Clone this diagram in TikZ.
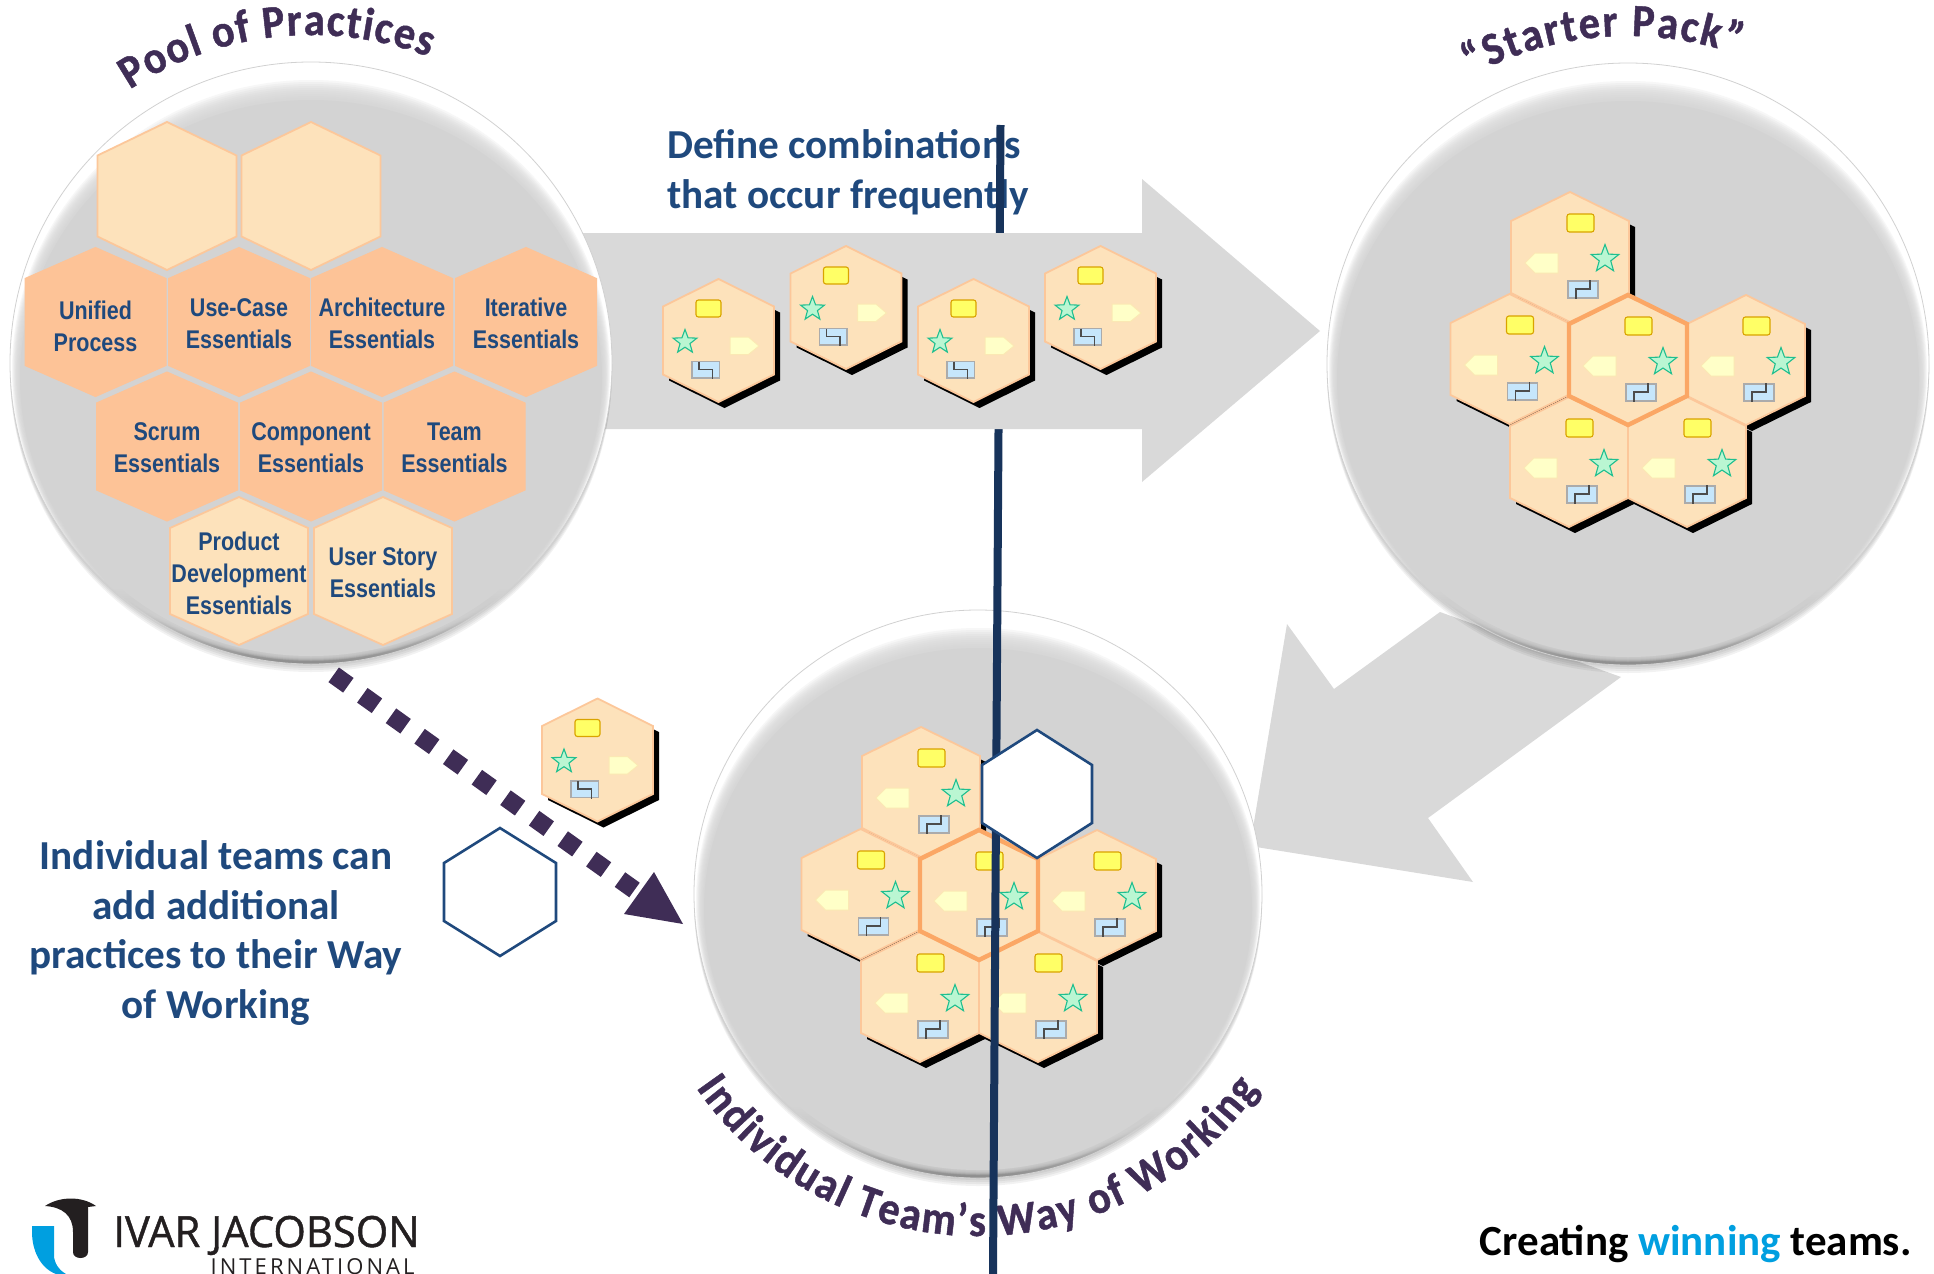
\documentclass[tikz,border=0pt]{standalone}
\usepackage{fontspec}
\usetikzlibrary{shapes.geometric,decorations.text,calc}
\setmainfont{Carlito}
\newfontfamily\carl{Carlito}
\newfontfamily\titlef[FakeStretch=0.92,FakeBold=1]{Carlito}
\newfontfamily\narrowf[FakeStretch=0.84]{Liberation Sans}
\newfontfamily\logof[FakeStretch=0.97,FakeBold=1]{Open Sans}
\newfontfamily\logoi[LetterSpace=14]{Open Sans}
\definecolor{navy}{HTML}{1F497D}
\definecolor{linec}{HTML}{17335B}
\definecolor{purp}{HTML}{3F2D56}
\definecolor{arrowg}{HTML}{D9D9D9}
\definecolor{sphg}{HTML}{D3D3D3}
\definecolor{hexdark}{HTML}{FDC397}
\definecolor{hexlight}{HTML}{FDE2BB}
\definecolor{hexline}{HTML}{FCC79A}
\definecolor{hexthick}{HTML}{FBA765}
\definecolor{ylw}{HTML}{FFFF66}
\definecolor{ylwl}{HTML}{D9A300}
\definecolor{starf}{HTML}{BAF6D2}
\definecolor{starl}{HTML}{1FBF8F}
\definecolor{penf}{HTML}{FFFFC8}
\definecolor{penl}{HTML}{FBE8B4}
\definecolor{bluf}{HTML}{C6E6FB}
\definecolor{blul}{HTML}{ABABAB}
\definecolor{blogo}{HTML}{009FE0}
\definecolor{dark}{HTML}{231F20}
\pgfdeclareverticalshading{sphbase}{100bp}{color(0bp)=(black!45); color(25bp)=(black!45); color(29bp)=(black!22); color(40bp)=(white); color(100bp)=(white)}
\tikzset{
  x=0.5pt,y=-0.5pt,
  hexd/.style={fill=hexdark,draw=hexdark,line width=0.5pt},
  hexl/.style={fill=hexlight,draw=hexline,line width=0.9pt},
  hexc/.style={fill=hexlight,draw=hexthick,line width=2.2pt},
  hexw/.style={fill=white,draw=navy,line width=1.3pt},
  hexo/.style={draw=navy,line width=1.3pt},
  shad/.style={fill=black},
  lab/.style={font=\narrowf\bfseries\fontsize{12.8}{16}\selectfont,text=navy,align=center,inner sep=0pt},
  bigt/.style={font=\carl\bfseries\fontsize{20.6}{24.7}\selectfont,text=navy,inner sep=0pt},
  ylwbox/.style={fill=ylw,draw=ylwl,line width=0.55pt,rounded corners=1.2pt},
  penbox/.style={fill=penf,draw=penl,line width=0.5pt},
  blubox/.style={fill=bluf,draw=blul,line width=0.9pt},
  zline/.style={draw=black!70,line width=0.6pt},
  stars/.style={star,star points=5,star point ratio=2.4,fill=starf,draw=starl,line width=0.55pt,inner sep=0pt},
  bigarrow/.style={fill=arrowg,draw=none},
  curved/.style={decorate,decoration={text along path,text color=purp,text align=fit to path,
     text={|\titlef\bfseries\fontsize{23}{23}\selectfont|#1}}},
}
\def\cmpx{*0.5pt}
% centre x, centre y, half width, half height, shoulder, style
\newcommand{\hexa}[6]{\path[#6] (#1,#2-#4) -- (#1+#3,#2-#5) -- (#1+#3,#2+#5) -- (#1,#2+#4) -- (#1-#3,#2+#5) -- (#1-#3,#2-#5) -- cycle;}
% card pointing right: name, cx, cy
\newcommand{\cardR}[3]{%
  \hexa{#2+6}{#3+6}{55.5}{61.5}{34}{shad}
  \hexa{#2}{#3}{55.5}{61.5}{34}{hexl}
  \begin{scope}[shift={(#2,#3)}]
    \path[ylwbox] (-22.5,-40.5) rectangle (2.5,-23.5);
    \path[penbox] (11.5,-3.5) -- (30,-3.5) -- (40.5,5.5) -- (30,14) -- (11.5,14) -- cycle;
    \path[blubox] (-26.5,21) rectangle (1,37.5);
    \path[zline] (-19.5,21) -- (-19.5,29) -- (-6,29) -- (-6,38.5);
    \node[stars,minimum size=25\cmpx] (#1s) at (-33.5,1.5) {};
  \end{scope}}
% card pointing left in a cluster: name, cx, cy, style
\newcommand{\cardL}[4]{%
  \hexa{#2}{#3}{59}{65}{36}{#4}
  \begin{scope}[shift={(#2,#3)}]
    \path[ylwbox] (-3,-43) rectangle (24,-25);
    \path[penbox] (-45,6) -- (-35,-4) -- (-12,-4) -- (-12,16) -- (-35,16) -- cycle;
    \path[blubox] (-2,24) rectangle (28,41);
    \path[zline] (20,23) -- (20,32) -- (6,32) -- (6,42);
    \node[stars,minimum size=29\cmpx] (#1s) at (35,2) {};
  \end{scope}}
\newcommand{\cluster}[3]{%
  \hexa{#2-58+6}{#3-103+6}{59}{65}{36}{shad}
  \hexa{#2-118.5+6}{#3-1+6}{59}{65}{36}{shad}
  \hexa{#2+118+6}{#3+6}{59}{65}{36}{shad}
  \hexa{#2-59+6}{#3+102+6}{59}{65}{36}{shad}
  \hexa{#2+59+6}{#3+102+6}{59}{65}{36}{shad}
  \cardL{#1t}{#2-58}{#3-103}{hexl}
  \cardL{#1l}{#2-118.5}{#3-1}{hexl}
  \cardL{#1r}{#2+118}{#3}{hexl}
  \cardL{#1a}{#2-59}{#3+102}{hexl}
  \cardL{#1b}{#2+59}{#3+102}{hexl}
  \cardL{#1c}{#2}{#3}{hexc}}
% name, cx, cy, r
\newcommand{\sphere}[4]{%
  \foreach \k in {2,4,6,8}{\fill[black,opacity=0.05] (#2,#3+\k) circle [radius={(#4)*0.5pt}];}
  \node[circle,inner sep=0pt,minimum size={(#4)*1pt},shading=sphbase,draw=black!18,line width=0.4pt] (#1) at (#2,#3) {};
  \foreach \t in {0,0.1,...,1}{\fill[sphg,opacity=0.18] (#2,{#3+7.5+7.5*\t}) ellipse [x radius={(#4-2-8*\t)*0.5pt},y radius={(#4-10.5-12.5*\t)*0.5pt}];}
  \fill[sphg] (#2,#3+15) ellipse [x radius={(#4-10)*0.5pt},y radius={(#4-23)*0.5pt}];}
% text on an arc: cx, cy, r, start angle, end angle, text
\newcommand{\arctext}[6]{\path[curved={#6}] ({#1+(#3)*cos(#4)},{#2-(#3)*sin(#4)}) arc [start angle=#4,end angle=#5,radius={(#3)*0.5pt}];}
\begin{document}
\begin{tikzpicture}
\path[use as bounding box] (0,0) rectangle (1934,1274);
\clip (0,0) rectangle (1934,1274);
% arrow from Starter Pack to the team
\path[bigarrow] (1440,612) -- (1334,689) -- (1287,624) -- (1250,846) -- (1473,882) -- (1428,818) -- (1621,677) -- cycle;
% Individual Team
\sphere{ind}{978}{894}{284}
\cluster{i}{979}{895}
\arctext{978}{894}{342}{214.5}{325.2}{Individual Team’s Way of Working}
% heading
\node[bigt,anchor=base west,align=left] (deftxt) at (667,158) {Define combinations};
\node[bigt,anchor=base west,align=left] (deftxt2) at (667,208) {that occur frequently};
% vertical line
\coordinate (ltop) at (1000.5,125);
\coordinate (lbot) at (993,1274);
\draw[linec,line width=4pt] (ltop) -- (lbot);
\hexa{1037}{794}{55}{64}{29}{hexw}
% big arrow right
\path[bigarrow] (560,233) -- (1142,233) -- (1142,179) -- (1320,331) -- (1142,482) -- (1142,429) -- (560,429) -- cycle;
% pool
\sphere{pool}{311}{363}{301}
\hexa{167}{196}{69.5}{74}{40.5}{hexl}
\hexa{311}{196}{69.5}{74}{40.5}{hexl}
\foreach \n/\cx/\cy/\ly/\txt in {
  a/95.5/322/326/{Unified\\Process},
  b/239/322/323.5/{Use-Case\\Essentials},
  c/382/322/323.5/{Architecture\\Essentials},
  d/526/322/323.5/{Iterative\\Essentials},
  e/167/446.5/448/{Scrum\\Essentials},
  f/311/446.5/448/{Component\\Essentials},
  g/454.5/446.5/448/{Team\\Essentials}}{
  \hexa{\cx}{\cy}{70.5}{74.5}{43.5}{hexd}
  \node[lab] (lab\n) at (\cx,\ly) {\txt};
}
\foreach \n/\cx/\cy/\ly/\txt in {
  h/239/571/573/{Product\\Development\\Essentials},
  i/383/571/573/{User Story\\Essentials}}{
  \hexa{\cx}{\cy}{69}{74}{43}{hexl}
  \node[lab] (lab\n) at (\cx,\ly) {\txt};
}
\arctext{311}{363}{328}{123.5}{69}{Pool of Practices}
% starter
\sphere{starter}{1628}{364}{301}
\cluster{s}{1628}{360}
\arctext{1628}{364}{328}{118.5}{70.6}{“Starter Pack”}
% cards in the arrow
\cardR{c1}{718.5}{340.5}
\cardR{c2}{846}{307.5}
\cardR{c3}{973.5}{340.5}
\cardR{c4}{1100.5}{307.5}
% extra practice
\cardR{c5}{597.5}{760}
\hexa{500}{892}{56}{64}{29}{hexo}
\coordinate (dstart) at (333.7,674.8);
\coordinate (dend) at (634.5,890);
\draw[purp,line width=9pt,dash pattern=on 9pt off 8.6pt] (dstart) -- (dend);
\path[fill=purp] (654,872) -- (683,924) -- (624,914) -- cycle;
\node[bigt,align=center] (addtxt) at (216,933) {Individual teams can\\add additional\\practices to their Way\\of Working};
% footer
\node[anchor=base east,inner sep=0pt,font=\carl\bfseries\fontsize{21.5}{22}\selectfont] (tagline) at (1912,1255) {Creating \textcolor{blogo}{winning} teams.};
\path[fill=dark] (45,1206) .. controls (60,1196) and (82,1196) .. (96,1206) -- (88,1207) -- (88,1252) .. controls (88,1260) and (73,1260) .. (73,1252) -- (73,1232) .. controls (73,1215) and (62,1207) .. (45,1206) -- cycle;
\path[fill=blogo] (32,1226) -- (54,1226) -- (54,1255) .. controls (54,1263) and (59,1270) .. (66,1274) -- (56,1274) .. controls (40,1268) and (32,1250) .. (32,1232) -- cycle;
\node[anchor=base west,inner sep=0pt,text=dark,font=\logof\fontsize{21.5}{22}\selectfont] (logo1) at (113,1247) {IVAR JACOBSON};
\node[anchor=base east,inner sep=0pt,text=dark,font=\logoi\fontsize{11}{12}\selectfont] (logo2) at (415,1274) {INTERNATIONAL};
\end{tikzpicture}
\end{document}
